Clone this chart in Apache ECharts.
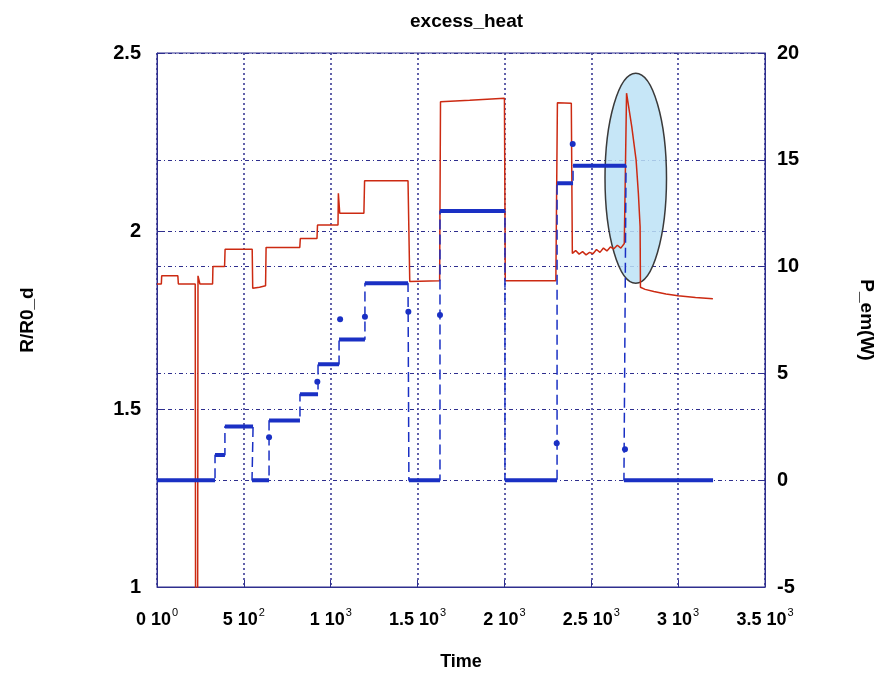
<!DOCTYPE html>
<html>
<head>
<meta charset="utf-8">
<title>excess_heat</title>
<script src="https://cdn.jsdelivr.net/npm/echarts@6/dist/echarts.min.js"></script>
<style>
html, body { margin: 0; padding: 0; background: #fff; }
#main { width: 886px; height: 675px; }
</style>
</head>
<body>
<div id="main"></div>
<script>
// R/R0_d, left axis
var rTime = [0, 25, 27, 120, 123, 220, 222, 234, 236, 245, 247, 320, 322, 389, 392, 548, 551, 590, 625, 628,
    822, 825, 921, 924, 1042, 1044, 1052, 1191, 1195, 1445, 1455, 1627, 1632, 1800, 2000, 2005, 2296, 2305, 2385, 2391,
    2410, 2430, 2450, 2470, 2490, 2510, 2530, 2550, 2570, 2590, 2610, 2630, 2650, 2670, 2690,
    2703, 2733, 2758, 2771, 2781, 2783, 2810, 2860, 2930, 3000, 3100, 3200];
var rRatio = [1.851, 1.851, 1.874, 1.874, 1.851, 1.851, 0.95, 0.95, 1.874, 1.874, 1.851, 1.851, 1.900, 1.900, 1.949, 1.949, 1.839, 1.842, 1.846, 1.954,
    1.954, 1.979, 1.979, 2.017, 2.017, 2.106, 2.050, 2.050, 2.141, 2.141, 1.858, 1.860, 2.363, 2.367, 2.373, 1.860, 1.860, 2.360, 2.359, 1.937,
    1.945, 1.935, 1.942, 1.933, 1.940, 1.936, 1.948, 1.940, 1.952, 1.944, 1.955, 1.950, 1.960, 1.952, 1.965,
    2.387, 2.293, 2.199, 2.106, 2.012, 1.842, 1.836, 1.830, 1.823, 1.818, 1.813, 1.810];

// P_em plateaus, right axis
var pStart = [0, 334, 391, 547, 645, 823, 927, 1048, 1197, 1450, 1629, 2003, 2303, 2395, 2688];
var pEnd = [334, 391, 553, 645, 823, 927, 1048, 1197, 1445, 1629, 2003, 2303, 2395, 2700, 3201];
var pLevel = [0, 1.18, 2.51, 0, 2.79, 4.02, 5.43, 6.59, 9.22, 0, 12.6, 0, 13.9, 14.72, 0];

// single samples caught during the transitions
var dotTime = [645, 923, 1054, 1197, 1447, 1629, 2301, 2393, 2694];
var dotPower = [2.01, 4.61, 7.53, 7.65, 7.89, 7.73, 1.73, 15.74, 1.45];

// x tick labels
var xTicks = [0, 500, 1000, 1500, 2000, 2500, 3000, 3500];
var xMant = ['0', '5', '1', '1.5', '2', '2.5', '3', '3.5'];
var xExp = ['0', '2', '3', '3', '3', '3', '3', '3'];

// highlighted region: centre (time, R/R0_d) and half sizes
var markCenter = [2756, 2.148];
var markHalf = [177, 0.295];

var navy = '#2e2e8e';
var red = '#cc2a12';
var blue = '#1a30c4';
var font = 'Liberation Sans, Arial, sans-serif';

var redData = rTime.map(function (t, i) { return [t, rRatio[i]]; });
var pathData = [];
var stepData = [];
for (var i = 0; i < pStart.length; i++) {
    pathData.push([pStart[i], pLevel[i]], [pEnd[i], pLevel[i]]);
    stepData.push([pStart[i], pLevel[i]], [pEnd[i], pLevel[i]], [pEnd[i], '-']);
}
var dotData = dotTime.map(function (t, i) { return [t, dotPower[i]]; });

var chart = echarts.init(document.getElementById('main'));

var option = {
    animation: false,
    backgroundColor: '#fff',
    title: {
        text: 'excess_heat',
        left: 405,
        top: 7,
        textStyle: { fontFamily: font, fontSize: 19, fontWeight: 'bold', color: '#000' }
    },
    grid: {
        left: 157, right: 121, top: 53, bottom: 88,
        outerBoundsMode: 'none',
        containLabel: false,
        show: true, borderColor: navy, borderWidth: 1, backgroundColor: 'transparent'
    },
    xAxis: {
        type: 'value',
        min: 0, max: 3500, interval: 500,
        name: 'Time',
        nameLocation: 'middle',
        nameGap: 66,
        nameTextStyle: { fontFamily: font, fontSize: 18, fontWeight: 'bold', color: '#000' },
        axisLine: { onZero: false, lineStyle: { color: navy, width: 1 } },
        axisTick: { inside: true, length: 7, lineStyle: { color: navy } },
        splitLine: { show: true, lineStyle: { color: navy, width: 1.5, type: [2, 3] } },
        axisLabel: {
            margin: 20,
            formatter: function (v) {
                var k = xTicks.indexOf(v);
                if (k < 0) return '';
                return '{b|' + xMant[k] + ' 10}{s|' + xExp[k] + '}';
            },
            rich: {
                b: { fontFamily: font, fontSize: 18, fontWeight: 'bold', color: '#000', lineHeight: 22, verticalAlign: 'bottom' },
                s: { fontFamily: font, fontSize: 11, color: '#000', lineHeight: 22, verticalAlign: 'top', padding: [0, 0, 0, 1] }
            }
        }
    },
    yAxis: [{
        type: 'value',
        min: 1, max: 2.5, interval: 0.5,
        name: 'R/R0_d',
        nameLocation: 'middle',
        nameRotate: 90,
        nameGap: 120,
        nameTextStyle: { fontFamily: font, fontSize: 19, fontWeight: 'bold', color: '#000' },
        axisLine: { show: true, lineStyle: { color: navy, width: 1 } },
        axisTick: { show: true, inside: true, length: 7, lineStyle: { color: navy } },
        splitLine: { show: true, lineStyle: { color: navy, width: 1, type: [4, 3, 1, 3] } },
        axisLabel: { margin: 16, fontFamily: font, fontSize: 20, fontWeight: 'bold', color: '#000' }
    }, {
        type: 'value',
        position: 'right',
        min: -5, max: 20, interval: 5,
        name: 'P_em(W)',
        nameLocation: 'middle',
        nameRotate: -90,
        nameGap: 92,
        nameTextStyle: { fontFamily: font, fontSize: 19, fontWeight: 'bold', color: '#000' },
        axisLine: { show: true, onZero: false, lineStyle: { color: navy, width: 1 } },
        axisTick: { show: true, inside: true, length: 7, lineStyle: { color: navy } },
        splitLine: { show: true, lineStyle: { color: navy, width: 1, type: [4, 3, 1, 3] } },
        axisLabel: { margin: 12, fontFamily: font, fontSize: 20, fontWeight: 'bold', color: '#000' }
    }],
    series: [{
        type: 'custom',
        xAxisIndex: 0,
        yAxisIndex: 0,
        z: 1,
        silent: true,
        encode: { x: 0, y: 1 },
        data: [[markCenter[0], markCenter[1], markHalf[0], markHalf[1]]],
        renderItem: function (params, api) {
            var c = api.coord([api.value(0), api.value(1)]);
            var s = api.size([api.value(2), api.value(3)]);
            return {
                type: 'ellipse',
                shape: { cx: c[0], cy: c[1], rx: s[0], ry: s[1] },
                style: { fill: 'rgba(188,226,246,0.85)', stroke: '#3a3a3a', lineWidth: 1.5 }
            };
        }
    }, {
        name: 'R/R0_d',
        type: 'line',
        yAxisIndex: 0,
        z: 3,
        data: redData,
        symbol: 'none',
        lineStyle: { color: red, width: 1.5 }
    }, {
        name: 'P_em',
        type: 'line',
        yAxisIndex: 1,
        z: 3,
        data: pathData,
        symbol: 'none',
        lineStyle: { color: blue, width: 1.5, type: [10, 5] }
    }, {
        name: 'P_em plateau',
        type: 'line',
        yAxisIndex: 1,
        z: 4,
        data: stepData,
        symbol: 'none',
        connectNulls: false,
        lineStyle: { color: blue, width: 4, cap: 'butt' }
    }, {
        name: 'P_em sample',
        type: 'scatter',
        yAxisIndex: 1,
        z: 4,
        data: dotData,
        symbolSize: 6,
        itemStyle: { color: blue, opacity: 1 }
    }]
};
chart.setOption(option);
</script>
</body>
</html>
